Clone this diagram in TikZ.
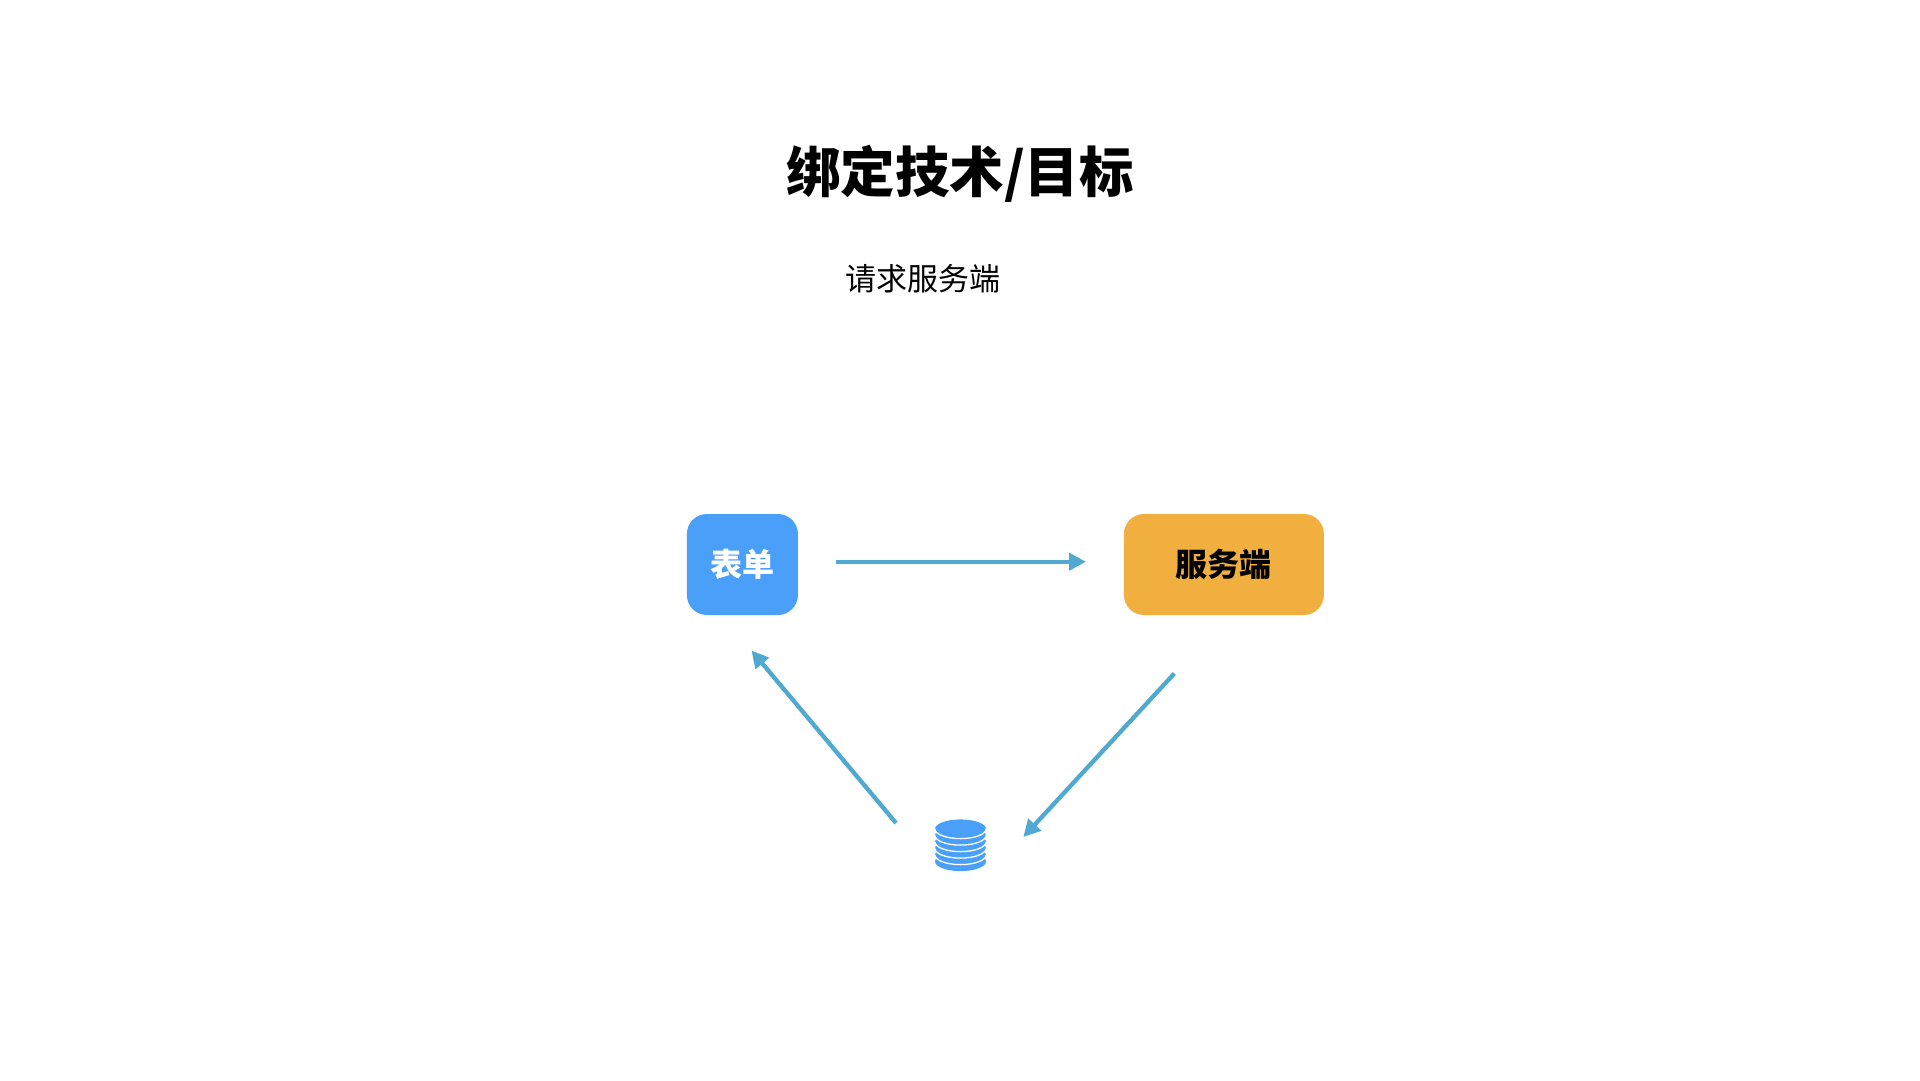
\documentclass[tikz,border=0pt]{standalone}
\usepackage{fontspec}
\setmainfont{Noto Sans CJK SC}
\usetikzlibrary{arrows.meta}
\definecolor{boxblue}{HTML}{4A9FF9}
\definecolor{boxorange}{HTML}{F0AF3F}
\definecolor{arrowblue}{HTML}{4FA9D1}
\tikzset{
  box/.style={rectangle,rounded corners=20pt,inner sep=0pt,minimum height=101pt,font=\fontsize{32}{32}\selectfont\bfseries},
  flow/.style={draw=arrowblue,line width=4.3pt,-{Triangle[length=17pt,width=17pt]},shorten >=0pt},
  disc/.style={fill=boxblue},
  discline/.style={draw=white,line width=1.3pt},
}
\begin{document}
\begin{tikzpicture}[x=1pt,y=-1pt]
\useasboundingbox[fill=white] (0,0) rectangle (1920,1080);
\node[font=\fontsize{54.5}{54.5}\selectfont\bfseries,inner sep=0pt] (title) at (960,173.5) {绑定技术/目标};
\node[font=\fontsize{31}{31}\selectfont,inner sep=0pt] (subtitle) at (923,279) {请求服务端};
\node[box,fill=boxblue,text=white,minimum width=111pt] (form) at (742.4,564.5) {表单};
\node[box,fill=boxorange,text=black,minimum width=200pt] (server) at (1223.9,564.5) {\raisebox{-1.2pt}{服务端}};
\node[inner sep=0pt,minimum width=51pt,minimum height=52pt] (db) at (960.5,845) {};
% database stack
\foreach \cy in {861.5,855,848.5,842,835.5,829}{
  \fill[disc] (960.5,\cy) ellipse [x radius=25.5,y radius=9.6];
}
\foreach \cy in {855,848.5,842,835.5,829}{
  \draw[discline] (935,\cy) arc [start angle=180,end angle=360,x radius=25.5,y radius=-9.6];
}
\coordinate (a1s) at (836,561.7);
\coordinate (a1e) at (1086,561.7);
\coordinate (a2s) at (1174.3,673.5);
\coordinate (a2e) at (1023.3,837);
\coordinate (a3s) at (896,823);
\coordinate (a3e) at (751.5,650.5);
\draw[flow] (a1s) -- (a1e);
\draw[flow] (a2s) -- (a2e);
\draw[flow] (a3s) -- (a3e);
\end{tikzpicture}
\end{document}
